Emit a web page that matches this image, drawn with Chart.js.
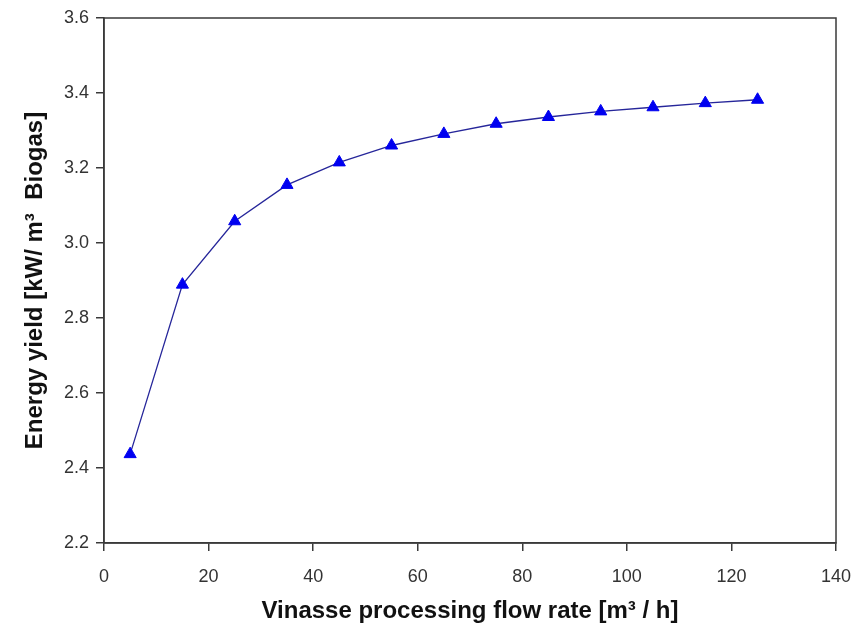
<!DOCTYPE html>
<html>
<head>
<meta charset="utf-8">
<script src="https://cdn.jsdelivr.net/npm/chart.js@4"></script>
<style>
  body { margin: 0; background: #fff; }
  #wrap { width: 853px; height: 627px; }
</style>
</head>
<body>
<div id="wrap"><canvas id="graphCanvas" width="853" height="627"></canvas></div>
<script>
// flow rate (m3/h) and energy yield (kW/m3 biogas)
var flowRate = [5, 15, 25, 35, 45, 55, 65, 75, 85, 95, 105, 115, 125];
var energyYield = [2.437, 2.889, 3.058, 3.155, 3.215, 3.260, 3.291, 3.318, 3.336, 3.351, 3.362, 3.373, 3.382];
var xTicks = [0, 20, 40, 60, 80, 100, 120, 140];
var yTicks = [2.2, 2.4, 2.6, 2.8, 3.0, 3.2, 3.4, 3.6];

var points = [];
for (var i in flowRate) {
    points.push({ x: flowRate[i], y: energyYield[i] });
}

// box round the plot area
var frame = {
    id: 'frame',
    afterDraw: function (chart) {
        var a = chart.chartArea, ctx = chart.ctx;
        ctx.save();
        ctx.strokeStyle = '#3a3a3a';
        ctx.lineWidth = 1.5;
        ctx.strokeRect(a.left, a.top, a.right - a.left, a.bottom - a.top);
        ctx.restore();
    }
};

var tickFont = { family: 'Liberation Sans, Arial', size: 18, lineHeight: 1 };
var titleFont = { family: 'Liberation Sans, Arial', size: 24, weight: 'bold', lineHeight: 1 };

new Chart(document.getElementById('graphCanvas'), {
    type: 'scatter',
    data: {
        datasets: [{
            data: points,
            showLine: true,
            borderColor: '#26269a',
            borderWidth: 1.3,
            pointStyle: 'triangle',
            pointRadius: 7,
            pointBackgroundColor: '#0000f0',
            pointBorderColor: '#0000f0',
            pointBorderWidth: 1
        }]
    },
    options: {
        responsive: false,
        animation: false,
        layout: { padding: { top: 18, right: 0, left: 23, bottom: 0 } },
        plugins: { legend: { display: false }, tooltip: { enabled: false } },
        scales: {
            x: {
                type: 'linear',
                min: 0, max: 140,
                afterBuildTicks: function (s) { s.ticks = xTicks.map(function (v) { return { value: v }; }); },
                afterFit: function (s) { s.height = 84; s.paddingRight = 17; s.paddingLeft = 0; },
                grid: { drawOnChartArea: false, color: '#3a3a3a', tickLength: 8, lineWidth: 1.5 },
                border: { color: '#3a3a3a', width: 1.5 },
                ticks: { color: '#333', font: tickFont, padding: 17, maxRotation: 0 },
                title: { display: true, text: 'Vinasse processing flow rate [m³ / h]', color: '#111', font: titleFont, padding: { top: 0, bottom: 4 } }
            },
            y: {
                min: 2.2, max: 3.6,
                afterBuildTicks: function (s) { s.ticks = yTicks.map(function (v) { return { value: v }; }); },
                afterFit: function (s) { s.width = 81; s.paddingTop = 0; s.paddingBottom = 0; },
                grid: { drawOnChartArea: false, color: '#3a3a3a', tickLength: 8, lineWidth: 1.5 },
                border: { color: '#3a3a3a', width: 1.5 },
                ticks: { color: '#333', font: tickFont, padding: 7, callback: function (v) { return v.toFixed(1); } },
                title: { display: true, text: 'Energy yield [kW/ m³  Biogas]', color: '#111', font: titleFont, padding: { top: 0, bottom: 11 } }
            }
        }
    },
    plugins: [frame]
});
</script>
</body>
</html>
